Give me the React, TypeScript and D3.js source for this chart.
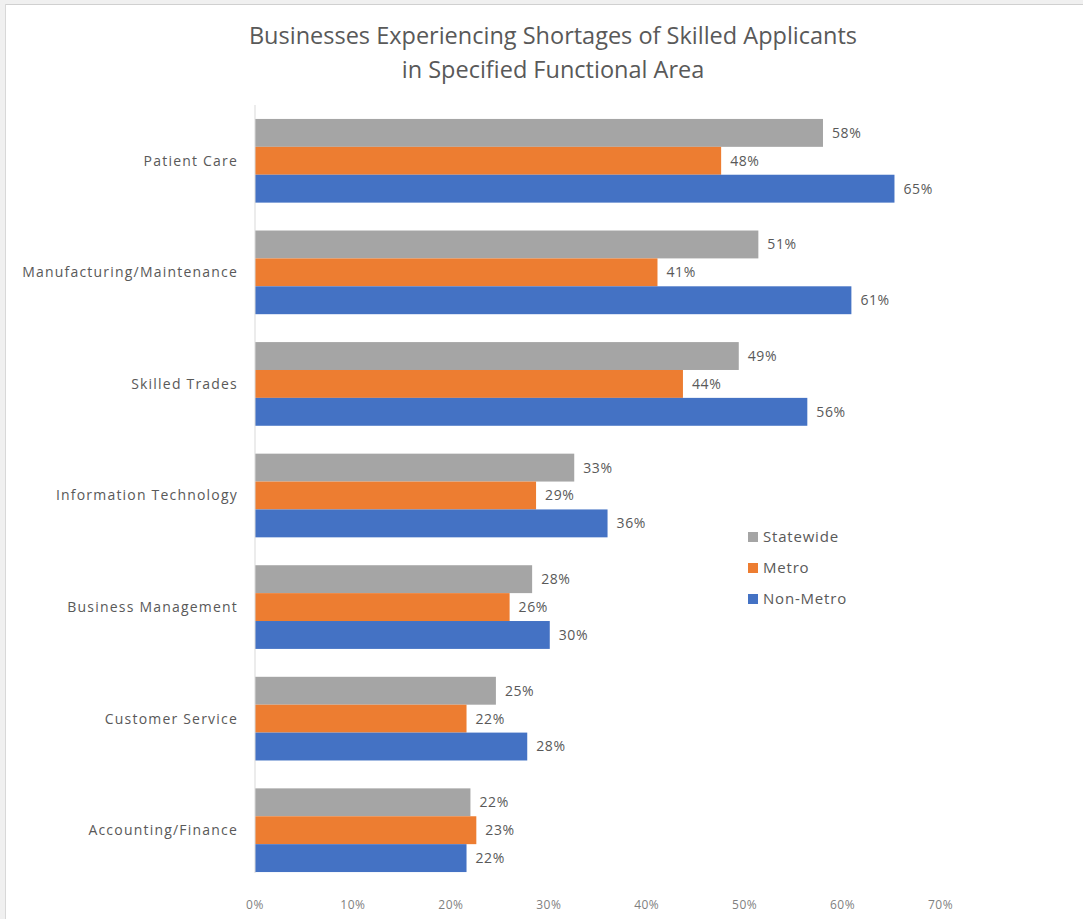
import React from "react";
import * as d3 from "d3";

const categories = [
  "Patient Care",
  "Manufacturing/Maintenance",
  "Skilled Trades",
  "Information Technology",
  "Business Management",
  "Customer Service",
  "Accounting/Finance",
];
const seriesNames = ["Statewide", "Metro", "Non-Metro"];
const statewide = [58.0, 51.4, 49.4, 32.6, 28.3, 24.6, 22.0];
const metro = [47.6, 41.1, 43.7, 28.7, 26.0, 21.6, 22.6];
const nonMetro = [65.3, 60.9, 56.4, 36.0, 30.1, 27.8, 21.6];
const xTicks = [0, 10, 20, 30, 40, 50, 60, 70];
const colors = ["#a5a5a5", "#ed7d31", "#4472c4"];

const W = 1083;
const H = 919;

export default function App() {
  const series = [statewide, metro, nonMetro];
  const x = d3.scaleLinear().domain([0, 70]).range([255, 940.5]);
  const y = d3
    .scaleBand<string>()
    .domain(categories)
    .range([105, 886])
    .paddingInner(0.25)
    .paddingOuter(0.125);
  const inner = d3
    .scaleBand<string>()
    .domain(seriesNames)
    .range([0, y.bandwidth()]);
  const font = "'Open Sans', 'Segoe UI', sans-serif";
  return (
    <svg
      width={W}
      height={H}
      style={{ position: "absolute", left: 0, top: 0, background: "#fff" }}
      fontFamily={font}
    >
      <rect x={0} y={0} width={W} height={4} fill="#f0f0f0" />
      <rect x={0} y={0} width={5} height={H} fill="#f0f0f0" />
      <line x1={5} x2={W} y1={4.5} y2={4.5} stroke="#d0d0d0" />
      <line x1={5.5} x2={5.5} y1={4} y2={H} stroke="#d8d8d8" />
      <g fill="#595959" textAnchor="middle" fontSize={23.5}>
        <text x={553} y={44} letterSpacing={0}>Businesses Experiencing Shortages of Skilled Applicants</text>
        <text x={553} y={78} letterSpacing={0}>in Specified Functional Area</text>
      </g>
      {categories.map((c, i) => (
        <g key={c}>
          {series.map((s, j) => {
            const yy = (y(c) as number) + (inner(seriesNames[j]) as number);
            return (
              <g key={j}>
                <rect
                  x={x(0)}
                  y={yy}
                  width={x(s[i]) - x(0)}
                  height={inner.bandwidth()}
                  fill={colors[j]}
                />
                <text
                  x={x(s[i]) + 9}
                  y={yy + inner.bandwidth() / 2}
                  dy="0.35em"
                  fontSize={14}
                  letterSpacing={0.6}
                  fill="#595959"
                >
                  {Math.round(s[i])}%
                </text>
              </g>
            );
          })}
          <text
            x={238}
            y={(y(c) as number) + y.bandwidth() / 2}
            dy="0.35em"
            textAnchor="end"
            fontSize={14}
            letterSpacing={1.2}
            fill="#595959"
          >
            {c}
          </text>
        </g>
      ))}
      <line x1={255} x2={255} y1={105} y2={873} stroke="#d9d9d9" />
      {xTicks.map((t) => (
        <text
          key={t}
          x={x(t)}
          y={905}
          dy="0.35em"
          textAnchor="middle"
          fontSize={12}
          letterSpacing={0.5}
          fill="#7f7f7f"
        >
          {t}%
        </text>
      ))}
      {seriesNames.map((n, j) => (
        <g key={n}>
          <rect x={748} y={532 + j * 31} width={10} height={10} fill={colors[j]} />
          <text x={763} y={537 + j * 31} dy="0.35em" fontSize={15} letterSpacing={0.8} fill="#595959">
            {n}
          </text>
        </g>
      ))}
    </svg>
  );
}
